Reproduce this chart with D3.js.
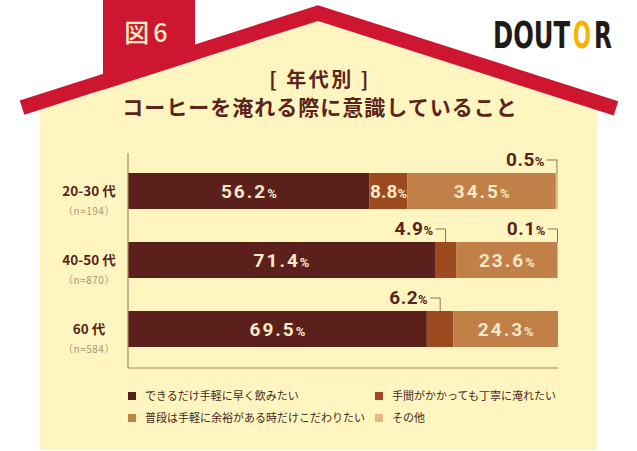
<!DOCTYPE html>
<html>
<head>
<meta charset="utf-8">
<script src="https://cdn.jsdelivr.net/npm/d3@7.9.0/dist/d3.min.js"></script>
<style>
  html, body { margin: 0; padding: 0; background: #fff; }
  svg { display: block; }
</style>
</head>
<body>
<div id="chart"></div>
<script>
// data
const groups = ['20-30 代', '40-50 代', '60 代'];
const nLabels = ['（n=194）', '（n=870）', '（n=584）'];
const seriesNames = [
  'できるだけ手軽に早く飲みたい',
  '手間がかかっても丁寧に淹れたい',
  '普段は手軽に余裕がある時だけこだわりたい',
  'その他'
];
const quickValues = [56.2, 71.4, 69.5];
const carefulValues = [8.8, 4.9, 6.2];
const relaxedValues = [34.5, 23.6, 24.3];
const otherValues = [0.5, 0.1, 0];
const colors = ['#5c201c', '#9c4a20', '#c08048', '#e2bb7f'];

const width = 637;
const height = 451;
const jp = '"Noto Sans CJK JP", "Noto Sans", sans-serif';
const num = 'Roboto, "DejaVu Sans", sans-serif';
const brown = '#5a2418';

const svg = d3.select('#chart').append('svg')
  .attr('width', width)
  .attr('height', height);

// "図6" tab behind the roof
svg.append('rect')
  .attr('x', 103).attr('y', 0)
  .attr('width', 92).attr('height', 90)
  .attr('fill', '#cf1631');

svg.append('text')
  .attr('x', 148).attr('y', 42)
  .attr('text-anchor', 'middle')
  .attr('fill', '#fff0c0')
  .style('font-family', jp)
  .style('font-weight', 500)
  .style('font-size', '25px')
  .style('letter-spacing', '4px')
  .text('図6');

// house body
const roofY = (x) => 13 + 0.32 * Math.abs(x - 318);
svg.append('path')
  .attr('d', d3.line()([
    [40, roofY(40) + 8], [318, 21], [597, roofY(597) + 8],
    [597, 450], [40, 450]
  ]) + 'Z')
  .attr('fill', '#fff5c1');

// roof
svg.append('path')
  .attr('d', d3.line()([[22, roofY(22)], [318, 13], [616, roofY(616)]]))
  .attr('fill', 'none')
  .attr('stroke', '#cf1631')
  .attr('stroke-width', 15)
  .attr('stroke-linejoin', 'miter');

// logo: condensed letters, the second O in yellow
const logoParts = [['DOUT', 493, 77, '#1e1a18'], ['O', 573, 18, '#f5b400'], ['R', 594, 18, '#1e1a18']];
logoParts.forEach(([s, lx, lw, c]) => {
  const t = svg.append('text')
    .attr('x', 0).attr('y', 0)
    .attr('fill', c)
    .style('font-family', '"DejaVu Sans Condensed", "DejaVu Sans", sans-serif')
    .style('font-weight', 700)
    .style('font-size', '37px')
    .text(s);
  const w = t.node().getComputedTextLength();
  t.attr('transform', `translate(${lx},48) scale(${lw / w},1)`);
});

// title
svg.append('text')
  .attr('x', 320).attr('y', 87)
  .attr('text-anchor', 'middle')
  .attr('fill', brown)
  .style('font-family', jp)
  .style('font-weight', 700)
  .style('font-size', '20px')
  .style('letter-spacing', '2.5px')
  .text('[ 年代別 ]');

svg.append('text')
  .attr('x', 320).attr('y', 115)
  .attr('text-anchor', 'middle')
  .attr('fill', brown)
  .style('font-family', jp)
  .style('font-weight', 700)
  .style('font-size', '21px')
  .style('letter-spacing', '1px')
  .text('コーヒーを淹れる際に意識していること');

// scales
const x = d3.scaleLinear().domain([0, 100]).range([128, 558]);
const y = d3.scaleBand()
  .domain(groups)
  .range([156.5, 363.5])
  .paddingInner(0.478)
  .paddingOuter(0.239);

const rows = groups.map((g, i) => ({
  group: g,
  quick: quickValues[i],
  careful: carefulValues[i],
  relaxed: relaxedValues[i],
  other: otherValues[i]
}));
const keys = ['quick', 'careful', 'relaxed', 'other'];
const stacked = d3.stack().keys(keys)(rows);

// bars
const layers = svg.append('g').selectAll('g')
  .data(stacked)
  .join('g')
  .attr('fill', (d, i) => colors[i]);

layers.selectAll('rect')
  .data((d) => d)
  .join('rect')
  .attr('x', (d) => x(d[0]))
  .attr('y', (d) => y(d.data.group))
  .attr('width', (d) => x(d[1]) - x(d[0]))
  .attr('height', y.bandwidth());

// axis lines (L shape)
svg.append('path')
  .attr('d', d3.line()([[x(0), 153], [x(0), 368], [x(100), 368]]))
  .attr('fill', 'none')
  .attr('stroke', '#a88868')
  .attr('stroke-width', 1.2);

// value labels
const labels = svg.append('g');
stacked.forEach((layer) => {
  layer.forEach((d) => {
    const v = d[1] - d[0];
    if (v <= 0) return;
    const x0 = x(d[0]);
    const x1 = x(d[1]);
    const top = y(d.data.group);
    const vs = d3.format('.1f')(v);
    if (v >= 8) {
      const t = labels.append('text')
        .attr('x', (x0 + x1) / 2)
        .attr('y', top + y.bandwidth() / 2 + 7)
        .attr('text-anchor', 'middle')
        .attr('fill', '#f8e8c4')
        .style('font-family', num)
        .style('font-weight', 700)
        .style('font-size', '19px')
        .style('letter-spacing', (x1 - x0) < 50 ? '0px' : '2px');
      t.append('tspan').text(vs);
      t.append('tspan').style('font-size', '13px').style('letter-spacing', '0px').text('%');
    } else {
      // callout above the bar with a leader line
      const mid = (x0 + x1) / 2;
      const ly = top - 13;
      const t = labels.append('text')
        .attr('x', mid - 12)
        .attr('y', ly + 6)
        .attr('text-anchor', 'end')
        .attr('fill', brown)
        .style('font-family', num)
        .style('font-weight', 700)
        .style('font-size', '19px')
        .style('letter-spacing', '0.5px');
      t.append('tspan').text(vs);
      t.append('tspan').style('font-size', '13px').text('%');
      labels.append('path')
        .attr('d', d3.line()([[mid - 10, ly], [Math.min(mid, 557.5), ly], [Math.min(mid, 557.5), top]]))
        .attr('fill', 'none')
        .attr('stroke', '#8a7060')
        .attr('stroke-width', 1);
    }
  });
});

// group labels
const gl = svg.append('g');
groups.forEach((g, i) => {
  const cy = y(g) + y.bandwidth() / 2;
  gl.append('text')
    .attr('x', 89).attr('y', cy + 5)
    .attr('text-anchor', 'middle')
    .attr('fill', brown)
    .style('font-family', jp)
    .style('font-weight', 700)
    .style('font-size', '13.5px')
    .text(g);
  gl.append('text')
    .attr('x', 89).attr('y', cy + 24)
    .attr('text-anchor', 'middle')
    .attr('fill', '#a89878')
    .style('font-family', jp)
    .style('font-size', '10px')
    .style('letter-spacing', '0.5px')
    .text(nLabels[i]);
});

// legend
const legendPos = [[128, 396], [375, 396], [128, 418], [375, 418]];
const legend = svg.append('g').selectAll('g')
  .data(seriesNames)
  .join('g')
  .attr('transform', (d, i) => `translate(${legendPos[i][0]},${legendPos[i][1]})`);

legend.append('rect')
  .attr('x', 0).attr('y', -4)
  .attr('width', 8).attr('height', 8)
  .attr('fill', (d, i) => colors[i]);

legend.append('text')
  .attr('x', 17).attr('y', 4)
  .attr('fill', '#4a2a1a')
  .style('font-family', jp)
  .style('font-size', '11px')
  .text((d) => d);
</script>
</body>
</html>
